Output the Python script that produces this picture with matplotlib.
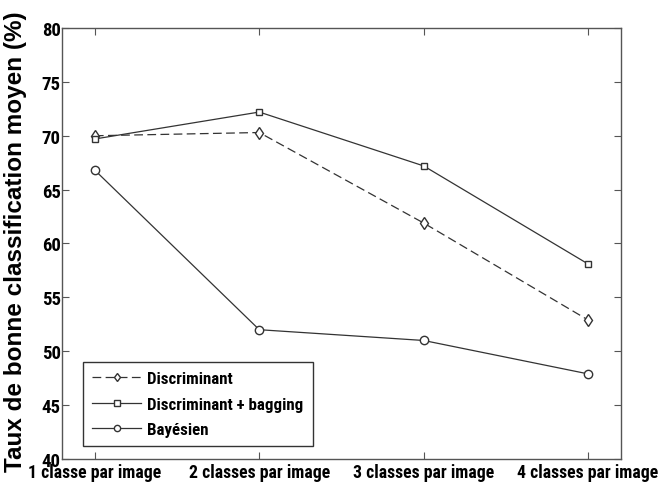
import matplotlib
matplotlib.use('Agg')
import matplotlib.pyplot as plt

# --- data ---
categories = ['1 classe par image', '2 classes par image',
              '3 classes par image', '4 classes par image']
discriminant = [70.0, 70.3, 61.9, 52.9]
discr_bagging = [69.7, 72.2, 67.2, 58.1]
bayesien = [66.8, 52.0, 51.0, 47.9]

narrow = ['Roboto Condensed', 'DejaVu Sans']
fig = plt.figure(figsize=(6.58, 4.89), dpi=100)
ax = fig.add_axes([0.0942, 0.0593, 0.8495, 0.8814])

x = range(1, len(categories) + 1)
lc = '#333333'
ax.plot(x, discriminant, ls=(0, (7, 3.5)), color=lc, lw=0.9, marker='d', ms=6,
        mfc='white', mec=lc, label='Discriminant')
ax.plot(x, discr_bagging, ls='-', color=lc, lw=0.9, marker='s', ms=5,
        mfc='white', mec=lc, label='Discriminant + bagging')
ax.plot(x, bayesien, ls='-', color=lc, lw=0.9, marker='o', ms=6,
        mfc='white', mec=lc, label='Bayésien')

ax.set_xlim(0.8, 4.2)
ax.set_ylim(40, 80)
ax.set_xticks(list(x))
ax.set_xticklabels(categories, family=narrow, fontsize=12.8, fontweight='bold')
ax.set_yticks(range(40, 81, 5))
ax.set_yticklabels([str(v) for v in range(40, 81, 5)], family=narrow,
                   fontsize=13.5, fontweight='bold')
ax.tick_params(direction='in', top=True, right=True, length=5, color='#555555',
               pad=3)
ax.tick_params(axis='y', pad=1)
for s in ax.spines.values():
    s.set_color('#555555')
    s.set_linewidth(1.0)

fig.text(0.024, 0.505, 'Taux de bonne classification moyen (%)', rotation=90,
         ha='center', va='center', fontsize=17.5, fontweight='bold',
         fontstretch='normal', family=['Arimo', 'Liberation Sans', 'DejaVu Sans'])

leg = ax.legend(loc='lower left', bbox_to_anchor=(0.037, 0.03),
                prop={'family': narrow, 'size': 12.2, 'weight': 'bold'},
                frameon=True, fancybox=False, handlelength=2.9,
                borderaxespad=0, labelspacing=0.6, borderpad=0.55,
                handletextpad=0.35, markerscale=0.75)
leg.get_frame().set_edgecolor('black')
leg.get_frame().set_linewidth(1.0)

fig.savefig('out.png', dpi=100, facecolor='white')
